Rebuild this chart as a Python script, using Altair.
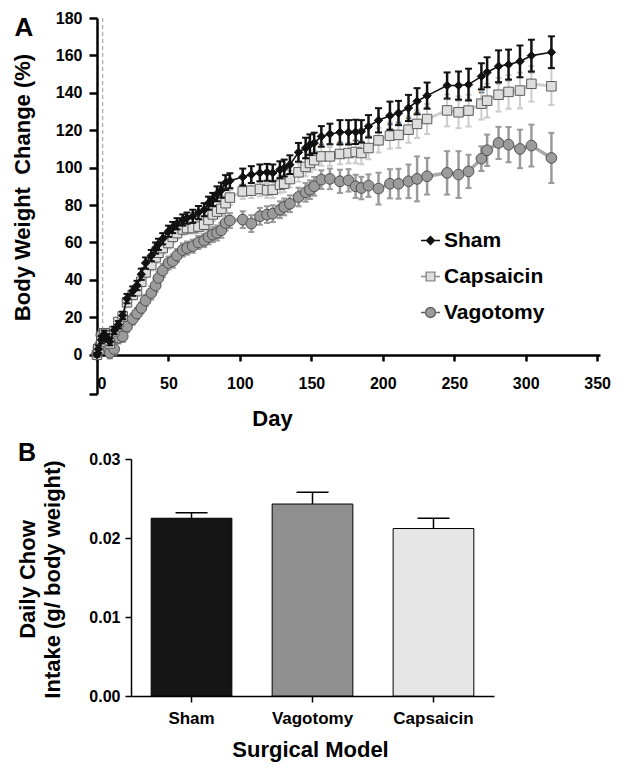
import altair as alt
import pandas as pd

# ---------------- Panel A data ----------------
days = [0, 1, 3, 5, 7, 9, 12, 15, 18, 21, 25, 28, 31, 34, 38, 41, 43, 46, 50, 53, 56, 60, 63, 67,
        71, 75, 78, 81, 84, 87, 90, 93, 102, 108, 114, 119, 123, 128, 131, 135, 141, 146, 149, 152,
        157, 163, 170, 176, 181, 185, 190, 197, 205, 211, 218, 224, 231, 245, 253, 260, 269, 273,
        281, 288, 296, 304, 318]

sham = [0, 3, 8, 11, 9, 7, 13, 16, 21, 30, 34, 37, 43, 49, 53, 57, 59, 62, 66, 68, 70, 72, 73, 74,
        76, 77.5, 81, 83, 86, 88, 92, 93, 95, 96.3, 97.2, 97.5, 97.2, 98.9, 99.8, 101.6, 108.2, 110.5,
        112.3, 113.2, 116.7, 118, 118.9, 118.9, 119.1, 119.4, 122.1, 125.3, 127.8, 129.2, 131.9, 135.5,
        138.5, 143.9, 143.9, 144.4, 148.8, 151, 154.2, 155.1, 156.8, 159.9, 161.7]
sham_sem = [1, 2, 2, 2, 2, 2, 2, 2, 2, 2.5, 2.5, 2.5, 3, 3, 3, 3, 3, 3, 3, 3, 3, 3, 3, 3.5,
            3.5, 3.5, 3.5, 3.5, 4, 4, 4, 4, 4.5, 4.5, 4.5, 4.5, 4.5, 4.5, 4.5, 5, 5, 5.5,
            5.5, 5.5, 5.5, 5.5, 6.5, 6.5, 6.5, 6, 6, 6.5, 7.5, 6.5, 7, 7, 7, 7, 7.5, 8.5,
            7, 8, 8.5, 8, 8.5, 8.5, 8.5]

capsaicin = [0, 3, 7, 11.5, 10, 6, 12.5, 17.5, 20.5, 28, 32, 34, 39, 44, 48, 52, 54.5, 57, 59.7, 63,
             65, 67, 67.7, 67.7, 68.5, 69.5, 72, 75, 76.5, 78, 81, 84, 87.3, 87.7, 88.6, 87.9, 88.2,
             90.9, 91.4, 93.9, 97.5, 100.4, 102.5, 104, 106, 106, 107.3, 107.8, 108.4, 107.8, 110.5,
             114.6, 117.1, 117.5, 120.3, 123.4, 126, 130.6, 129.6, 130.5, 134.2, 135.8, 139, 140.5,
             141.2, 144.8, 143.5]
capsaicin_sem = [1, 2, 2, 2, 2, 2, 2, 2, 2, 2.5, 2.5, 2.5, 2.5, 2.5, 3, 3, 3, 3, 3, 3, 3, 3, 3, 3,
                 3.5, 3.5, 3.5, 3.5, 3.5, 4, 4, 4, 4, 4, 4, 4, 4.5, 4.5, 4.5, 4.5, 5, 5,
                 5, 5, 5, 5, 5.5, 5.5, 6, 6, 6, 6.5, 7, 7, 7, 7.5, 8, 8.5, 8.5, 8.5,
                 8.5, 9, 9, 9, 9.5, 9.5, 10]

vagotomy = [0, 4, 10.7, 6.2, 4.4, 1, 3, 9, 9.8, 15, 19, 22, 25, 29, 33, 37, 41, 45, 49, 50, 53, 56,
            57, 58, 60, 61, 63, 64.2, 65.1, 66.5, 70.4, 71.7, 72.2, 70.1, 74, 74.9, 75.4, 77.5, 79,
            80.7, 84.3, 86.8, 88.2, 90, 93.6, 94, 92.7, 93.2, 90, 89.1, 90.4, 88.8, 91.4, 91.4, 92.7,
            94, 95.4, 97.2, 96.3, 98, 104.8, 109.3, 113.2, 112.3, 110, 111.8, 105.2]
vagotomy_sem = [2, 3, 3, 3, 3, 3, 3, 3, 3, 3, 3, 3, 3, 3, 3.5, 3.5, 3.5, 3.5, 3.5, 3.5, 3.5, 3.5, 3.5, 3.5,
                3.5, 3.5, 4, 4, 4, 4, 4, 4, 4.5, 4.5, 4.5, 4.5, 4.5, 4.5, 4.5, 4.5, 5, 5,
                5, 5, 5, 5.5, 6.2, 6, 6.2, 6, 6, 8.5, 7.8, 8, 9, 12, 9.8, 11.6, 12.5, 8.9,
                6.6, 8.4, 8.6, 9.4, 10.3, 11.2, 13.4]

sig_days = [157, 163, 170, 181, 185, 190, 205, 211, 218, 224, 231, 245, 253, 260, 269, 281, 288, 304]
surgery_day = [4]
groups = ["Sham", "Capsaicin", "Vagotomy"]

# ---------------- Panel B data ----------------
models = ["Sham", "Vagotomy", "Capsaicin"]
intake = [0.0225, 0.0243, 0.0212]
intake_sem = [0.0007, 0.0015, 0.0013]
bar_colors = ["#151515", "#8f8f8f", "#e6e6e6"]

FONT = "Liberation Sans, Arial, Helvetica, sans-serif"
BLACK = "#000000"


def series_df(vals, sems):
    return pd.DataFrame({
        "day": days,
        "val": vals,
        "lo": [v - s for v, s in zip(vals, sems)],
        "hi": [v + s for v, s in zip(vals, sems)],
    })


x_axis_top = alt.Axis(
    title="Day", values=[0, 50, 100, 150, 200, 250, 300, 350], format="d", offset=-39, grid=False,
    domainColor=BLACK, domainWidth=2.5, tickColor=BLACK, tickWidth=2.5, tickSize=6,
    labelFont=FONT, labelFontSize=16, labelFontWeight="bold", labelColor=BLACK, labelPadding=14,
    labelFlush=1, labelOverlap=False, titleFont=FONT, titleFontSize=22, titleFontWeight="bold",
    titleColor=BLACK, titleX=175, titleY=63, titleBaseline="middle", titleAlign="center")

y_axis_top = alt.Axis(
    title="Body Weight\u00a0 Change (%)", values=[-21, 0, 20, 40, 60, 80, 100, 120, 140, 160, 180],
    labelExpr="datum.value < 0 ? '' : datum.label", grid=False, labelOverlap=False,
    domainColor=BLACK, domainWidth=2.5, tickColor=BLACK, tickWidth=2.5, tickSize=8,
    labelFont=FONT, labelFontSize=16, labelFontWeight="bold", labelColor=BLACK, labelPadding=7,
    titleFont=FONT, titleFontSize=22, titleFontWeight="bold", titleColor=BLACK,
    titleX=-75, titleY=169, titleBaseline="middle", titleAlign="center", titleAngle=270)

X_SCALE = alt.Scale(domain=[0, 352], nice=False, zero=False)
Y_SCALE = alt.Scale(domain=[-21, 180], nice=False, zero=False)


def xt():
    return alt.X("day:Q", scale=X_SCALE, axis=x_axis_top)


def yt(field):
    return alt.Y(field, scale=Y_SCALE, axis=y_axis_top)


def series_layers(df, line_color, line_w, err_color, err_w, cap_w, shape, size, fill, stroke, stroke_w):
    base = alt.Chart(df)
    line = base.mark_line(color=line_color, strokeWidth=line_w).encode(x=xt(), y=yt("val:Q"))
    err = base.mark_rule(color=err_color, strokeWidth=err_w).encode(x=xt(), y=yt("lo:Q"), y2="hi:Q")
    cap_lo = base.mark_tick(orient="horizontal", color=err_color, size=cap_w, thickness=2,
                            opacity=1).encode(x=xt(), y=yt("lo:Q"))
    cap_hi = base.mark_tick(orient="horizontal", color=err_color, size=cap_w, thickness=2,
                            opacity=1).encode(x=xt(), y=yt("hi:Q"))
    pts = base.mark_point(shape=shape, size=size, filled=True, fill=fill, stroke=stroke,
                          strokeWidth=stroke_w, opacity=1).encode(x=xt(), y=yt("val:Q"))
    return [line, err, cap_lo, cap_hi, pts]


sham_df = series_df(sham, sham_sem)
caps_df = series_df(capsaicin, capsaicin_sem)
vag_df = series_df(vagotomy, vagotomy_sem)

dash = alt.Chart(pd.DataFrame({"day": surgery_day, "top": [180], "bottom": [0]})).mark_rule(
    color="#9a9a9a", strokeWidth=1, strokeDash=[4, 3]).encode(
    x=xt(), y=yt("top:Q"), y2="bottom:Q")

layers = [dash]
layers += series_layers(vag_df, "#a8a8a8", 3.5, "#9a9a9a", 2.5, 6, "circle", 115, "#9b9b9b", "#505050", 1)
layers += series_layers(caps_df, "#cfcfcf", 3, "#cccccc", 2, 6, "square", 90, "#dedede", "#5a5a5a", 1)
layers += series_layers(sham_df, "#111111", 1.6, "#111111", 2.5, 7, "diamond", 70, "#111111", "#111111", 1)

sig_df = caps_df[caps_df["day"].isin(sig_days)]
sig = alt.Chart(sig_df).mark_text(text="**", fontSize=8, color="#333333", dy=-10, font=FONT).encode(
    x=xt(), y=yt("val:Q"))
layers.append(sig)

paths = [
    "M-1,0L-0.4,0M0.4,0L1,0M0,-0.42L0.42,0L0,0.42L-0.42,0Z",
    "M-1,0L-0.46,0M0.46,0L1,0M-0.46,-0.46L0.46,-0.46L0.46,0.46L-0.46,0.46Z",
    "M-1,0L-0.52,0M0.52,0L1,0M0.52,0A0.52,0.52 0 1,1 -0.52,0A0.52,0.52 0 1,1 0.52,0Z",
]
legend = alt.Legend(title=None, orient="none", legendX=323, legendY=212, direction="vertical",
                    labelFont=FONT, labelFontSize=21, labelFontWeight="bold", labelColor=BLACK,
                    symbolSize=361, symbolStrokeWidth=1.4, symbolOpacity=1, rowPadding=14,
                    labelOffset=3, padding=0)
legend_df = pd.DataFrame({"group": groups, "day": [None] * 3, "val": [None] * 3})
leg = alt.Chart(legend_df).mark_point(filled=True, opacity=1).encode(
    x=xt(), y=yt("val:Q"),
    shape=alt.Shape("group:N", scale=alt.Scale(domain=groups, range=paths), legend=legend),
    fill=alt.Fill("group:N", scale=alt.Scale(domain=groups, range=["#111111", "#dedede", "#9b9b9b"]),
                  legend=legend),
    stroke=alt.Stroke("group:N", scale=alt.Scale(domain=groups, range=["#111111", "#8a8a8a", "#606060"]),
                      legend=legend),
)
layers.append(leg)

a_txt = alt.Chart(pd.DataFrame({"t": ["A"]})).mark_text(
    font=FONT, fontSize=26, fontWeight="bold", color=BLACK, align="center", baseline="middle").encode(
    text="t:N", x=alt.value(-73), y=alt.value(10))
layers.append(a_txt)

top = alt.layer(*layers).properties(width=503, height=376)

# ---------------- Panel B ----------------
bdf = pd.DataFrame({"model": models, "intake": intake,
                    "top": [a + b for a, b in zip(intake, intake_sem)], "shade": bar_colors})

xb_axis = alt.Axis(title="Surgical Model", labelAngle=0, grid=False, domainColor=BLACK, domainWidth=1.5,
                   tickColor=BLACK, tickWidth=1.5, tickSize=6, labelFont=FONT, labelFontSize=17,
                   labelFontWeight="bold", labelColor=BLACK, labelPadding=8,
                   titleFont=FONT, titleFontSize=22, titleFontWeight="bold", titleColor=BLACK,
                   titleX=213, titleY=53, titleBaseline="middle", titleAlign="center")
yb_axis = alt.Axis(title=["Daily Chow", "Intake (g/ body weight)"], values=[0, 0.01, 0.02, 0.03],
                   format=".2f", grid=False, offset=-34, domainColor=BLACK, domainWidth=1.5,
                   tickColor=BLACK, tickWidth=1.5, tickSize=6, labelFont=FONT, labelFontSize=16,
                   labelFontWeight="bold", labelColor=BLACK, labelPadding=5, labelOverlap=False,
                   titleFont=FONT, titleFontSize=22, titleFontWeight="bold", titleColor=BLACK,
                   titleX=-104, titleY=120, titleBaseline="middle", titleAlign="center",
                   titleAngle=270, titleLineHeight=25)

XB = alt.X("model:N", sort=models,
           scale=alt.Scale(paddingInner=0.333, paddingOuter=0.1667, range=[34, 397]), axis=xb_axis)
YB_SCALE = alt.Scale(domain=[0, 0.03], nice=False, zero=True)


def yb(field):
    return alt.Y(field, scale=YB_SCALE, axis=yb_axis)


bars = alt.Chart(bdf).mark_bar(stroke=BLACK, strokeWidth=1).encode(
    x=XB, y=yb("intake:Q"), fill=alt.Fill("shade:N", scale=None))
berr = alt.Chart(bdf).mark_rule(color=BLACK, strokeWidth=1.5).encode(x=XB, y=yb("intake:Q"), y2="top:Q")
bcap = alt.Chart(bdf).mark_tick(orient="horizontal", size=32, thickness=1.5, color=BLACK, opacity=1).encode(
    x=XB, y=yb("top:Q"))
b_txt = alt.Chart(pd.DataFrame({"t": ["B"]})).mark_text(
    font=FONT, fontSize=25, fontWeight="bold", color=BLACK, align="center", baseline="middle").encode(
    text="t:N", x=alt.value(-70), y=alt.value(-6))

bottom = alt.layer(bars, berr, bcap, b_txt).properties(width=397, height=237)

chart = alt.vconcat(top, bottom, spacing=12).properties(
    padding={"left": 3, "top": 2, "right": 0, "bottom": 5}
).configure(font=FONT).configure_view(stroke=None)

chart.save("out.html", embed_options={"renderer": "svg", "actions": False})
